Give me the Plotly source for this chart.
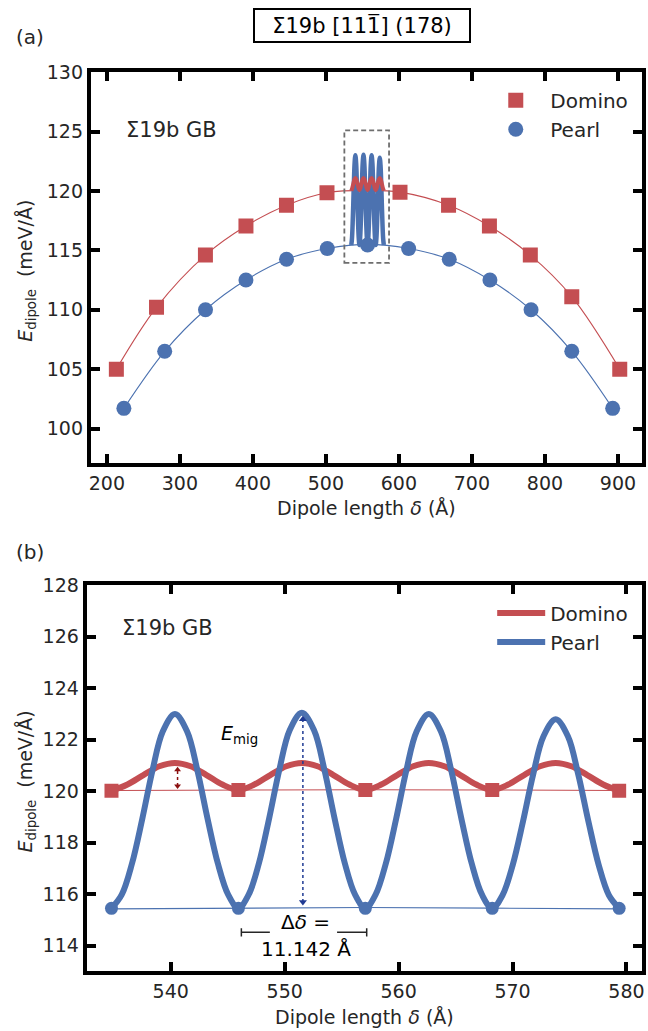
import plotly.graph_objects as go

# ---------------- panel (a) data ----------------
domino_x = [213, 268, 335, 390.5, 446, 501.5, 601.5, 668, 724, 780, 836.8, 902.5]
domino_y = [105.0, 110.2, 114.6, 117.05, 118.8, 119.85, 119.9, 118.8, 117.05, 114.6, 111.1, 105.0]
pearl_x = [223.3, 279.2, 335.1, 390.5, 446.1, 501.9, 557.1, 613.3, 669.0, 724.7, 781.0, 836.8, 892.8]
pearl_y = [101.7, 106.5, 110.0, 112.5, 114.25, 115.15, 115.45, 115.15, 114.25, 112.5, 110.0, 106.5, 101.7]

domino_fit_x = [213, 268, 335, 390.5, 446, 501.5, 557.5, 601.5, 668, 724, 780, 836.8, 902.5]
domino_fit_y = [105.0, 110.2, 114.6, 117.05, 118.8, 119.85, 120.05, 119.9, 118.8, 117.05, 114.6, 111.1, 105.0]
pearl_fit_x = [223.3, 279.2, 335.1, 390.5, 446.1, 501.9, 557.1, 613.3, 669.0, 724.7, 781.0, 836.8, 892.8]
pearl_fit_y = [101.7, 106.5, 110.0, 112.5, 114.25, 115.15, 115.5, 115.15, 114.25, 112.5, 110.0, 106.5, 101.7]

# ---------------- panel (b) data (migration profiles) ----------------
pearl_curve_x = [534.80, 535.70, 536.60, 537.50, 538.40, 539.30, 540.37, 541.44, 542.34, 543.24, 544.14, 545.04,
                 545.94, 546.84, 547.74, 548.64, 549.54, 550.44, 551.51, 552.58, 553.48, 554.38, 555.28, 556.18,
                 557.08, 557.98, 558.88, 559.78, 560.68, 561.58, 562.65, 563.72, 564.62, 565.52, 566.42, 567.32,
                 568.22, 569.12, 570.02, 570.92, 571.82, 572.72, 573.79, 574.86, 575.76, 576.66, 577.56, 578.46,
                 579.36]
pearl_curve_y = [115.45, 115.98, 117.19, 118.92, 120.81, 122.32, 123.00, 122.32, 120.81, 118.92, 117.19, 115.98,
                 115.45, 115.98, 117.20, 118.95, 120.85, 122.37, 123.05, 122.37, 120.85, 118.95, 117.20, 115.98,
                 115.45, 115.98, 117.19, 118.92, 120.81, 122.32, 123.00, 122.32, 120.81, 118.92, 117.19, 115.98,
                 115.45, 115.96, 117.14, 118.83, 120.67, 122.14, 122.80, 122.14, 120.67, 118.83, 117.14, 115.96,
                 115.45]
domino_curve_x = [534.80, 536.20, 537.60, 539.00, 540.37, 541.74, 543.14, 544.54,
                  545.94, 547.34, 548.74, 550.14, 551.51, 552.88, 554.28, 555.68,
                  557.08, 558.48, 559.88, 561.28, 562.65, 564.02, 565.42, 566.82,
                  568.22, 569.62, 571.02, 572.42, 573.79, 575.16, 576.56, 577.96, 579.36]
domino_curve_y = [120.02, 120.26, 120.63, 120.97, 121.10, 120.97, 120.63, 120.26,
                  120.05, 120.26, 120.63, 120.97, 121.10, 120.97, 120.63, 120.26,
                  120.05, 120.26, 120.63, 120.97, 121.10, 120.97, 120.63, 120.26,
                  120.05, 120.26, 120.63, 120.97, 121.10, 120.97, 120.63, 120.26, 120.02]
site_x = [534.80, 545.94, 557.08, 568.22, 579.36]
domino_site_y = [120.02, 120.05, 120.05, 120.05, 120.02]
pearl_site_y = [115.45, 115.45, 115.45, 115.45, 115.45]
domino_fitb_y = [120.03, 120.05, 120.06, 120.05, 120.03]
pearl_fitb_y = [115.43, 115.46, 115.48, 115.46, 115.43]

# double arrows (x, low end, high end) and the Δδ bracket
emig_domino_arrow = [540.6, 120.20, 120.84]
emig_pearl_arrow = [551.6, 115.70, 122.80]
delta_bracket_x = [546.2, 557.2]

xticks_a = [200, 300, 400, 500, 600, 700, 800, 900]
yticks_a = [100, 105, 110, 115, 120, 125, 130]
xticks_b = [540, 550, 560, 570, 580]
yticks_b = [114, 116, 118, 120, 122, 124, 126, 128]

RED = "#C44E52"
BLUE = "#4C72B0"
TXT = "#262626"
FONT = "DejaVu Sans"
W, H = 648, 1031

def px(xp):
    return xp / W

def py(yp):
    # vertical page position (px from top) -> paper fraction
    yc = (yp - 11.4) / 0.988
    return 1 - yc / H

fig = go.Figure()

# ---- panel (a) ----
fig.add_trace(go.Scatter(x=domino_fit_x, y=domino_fit_y, mode="lines", line=dict(color=RED, width=1.1, shape="spline"),
                         showlegend=False, xaxis="x", yaxis="y", hoverinfo="skip"))
fig.add_trace(go.Scatter(x=pearl_fit_x, y=pearl_fit_y, mode="lines", line=dict(color=BLUE, width=1.1, shape="spline"),
                         showlegend=False, xaxis="x", yaxis="y", hoverinfo="skip"))
fig.add_trace(go.Scatter(x=pearl_curve_x, y=pearl_curve_y, mode="lines", line=dict(color=BLUE, width=4.5, shape="spline"),
                         showlegend=False, xaxis="x", yaxis="y"))
fig.add_trace(go.Scatter(x=domino_curve_x, y=domino_curve_y, mode="lines", line=dict(color=RED, width=4, shape="spline"),
                         showlegend=False, xaxis="x", yaxis="y"))
fig.add_trace(go.Scatter(x=domino_x, y=domino_y, mode="markers", name="Domino",
                         marker=dict(symbol="square", size=15, color=RED, line=dict(width=0)),
                         xaxis="x", yaxis="y", legend="legend"))
fig.add_trace(go.Scatter(x=pearl_x, y=pearl_y, mode="markers", name="Pearl",
                         marker=dict(symbol="circle", size=15, color=BLUE, line=dict(width=0)),
                         xaxis="x", yaxis="y", legend="legend"))

# ---- panel (b) ----
fig.add_trace(go.Scatter(x=site_x, y=domino_fitb_y, mode="lines", line=dict(color=RED, width=1.1),
                         showlegend=False, xaxis="x2", yaxis="y2", hoverinfo="skip"))
fig.add_trace(go.Scatter(x=site_x, y=pearl_fitb_y, mode="lines", line=dict(color=BLUE, width=1.1),
                         showlegend=False, xaxis="x2", yaxis="y2", hoverinfo="skip"))
fig.add_trace(go.Scatter(x=domino_curve_x, y=domino_curve_y, mode="lines", name="Domino",
                         line=dict(color=RED, width=6, shape="spline"),
                         xaxis="x2", yaxis="y2", legend="legend2"))
fig.add_trace(go.Scatter(x=pearl_curve_x, y=pearl_curve_y, mode="lines", name="Pearl",
                         line=dict(color=BLUE, width=6, shape="spline"),
                         xaxis="x2", yaxis="y2", legend="legend2"))
fig.add_trace(go.Scatter(x=site_x, y=domino_site_y, mode="markers", showlegend=False,
                         marker=dict(symbol="square", size=14, color=RED, line=dict(width=0)),
                         xaxis="x2", yaxis="y2"))
fig.add_trace(go.Scatter(x=site_x, y=pearl_site_y, mode="markers", showlegend=False,
                         marker=dict(symbol="circle", size=13, color=BLUE, line=dict(width=0)),
                         xaxis="x2", yaxis="y2"))

# dotted double arrows
for arr, col, sz in [(emig_domino_arrow, "#8B1010", 6), (emig_pearl_arrow, "#1F3A93", 7)]:
    fig.add_trace(go.Scatter(x=[arr[0], arr[0]], y=[arr[1], arr[2]], mode="lines+markers", showlegend=False,
                             line=dict(color=col, width=1.5, dash="dot"),
                             marker=dict(symbol=["triangle-down", "triangle-up"], size=sz, color=col,
                                         line=dict(width=0)),
                             xaxis="x2", yaxis="y2", hoverinfo="skip"))

axis_common = dict(showline=True, linewidth=4, linecolor="black", mirror="ticks", ticks="inside",
                   ticklen=9, tickwidth=3.5, tickcolor="black", showgrid=False, zeroline=False,
                   tickfont=dict(family=FONT, size=19, color=TXT))

fig.update_layout(
    width=W, height=H, margin=dict(l=0, r=0, t=0, b=0),
    paper_bgcolor="white", plot_bgcolor="white",
    font=dict(family=FONT, color=TXT),
    xaxis=dict(domain=[px(89.5), px(644.7)], range=[178.0, 932.6], tickvals=xticks_a, anchor="y", **axis_common),
    yaxis=dict(domain=[py(463), py(72.5)], range=[97.08, 130], tickvals=yticks_a, anchor="x", **axis_common),
    xaxis2=dict(domain=[px(85.3), px(644.7)], range=[532.62, 581.34], tickvals=xticks_b, anchor="y2", **axis_common),
    yaxis2=dict(domain=[py(970.5), py(585)], range=[113, 128], tickvals=yticks_b, anchor="x2", **axis_common),
    legend=dict(x=px(483), y=py(81), xanchor="left", yanchor="top", bgcolor="rgba(0,0,0,0)",
                font=dict(family=FONT, size=20, color=TXT), itemwidth=59),
    legend2=dict(x=px(494), y=py(593), xanchor="left", yanchor="top", bgcolor="rgba(0,0,0,0)",
                 font=dict(family=FONT, size=20, color=TXT), itemwidth=48),
)

# dashed zoom box in panel (a)
fig.add_shape(type="rect", xref="x", yref="y", x0=525.3, x1=586.5, y0=113.95, y1=125.1,
              line=dict(color="#6e6e6e", width=1.8, dash="5px,3px"))

# Δδ bracket in panel (b)
bar_y = 114.52
cap = 0.16
for x0, x1 in [(delta_bracket_x[0], 548.7), (554.6, delta_bracket_x[1])]:
    fig.add_shape(type="line", xref="x2", yref="y2", x0=x0, x1=x1, y0=bar_y, y1=bar_y,
                  line=dict(color=TXT, width=1.5))
for xc in delta_bracket_x:
    fig.add_shape(type="line", xref="x2", yref="y2", x0=xc, x1=xc, y0=bar_y - cap, y1=bar_y + cap,
                  line=dict(color=TXT, width=1.5))

def txt(x, y, s, size, color=TXT, angle=0, **kw):
    fig.add_annotation(x=px(x), y=py(y), xref="paper", yref="paper", text=s, showarrow=False,
                       font=dict(family=FONT, size=size, color=color), textangle=angle,
                       xanchor="center", yanchor="middle", **kw)

txt(363, 25.5, "Σ19b [11" + "1\u0305" + "] (178)", 21, color="black",
    bordercolor="black", borderwidth=2, borderpad=4, bgcolor="white", width=206, height=23)
txt(28, 37, "(a)", 20)
txt(28, 552, "(b)", 20)
txt(171, 130, "Σ19b GB", 21)
txt(167, 628, "Σ19b GB", 21)
txt(367, 508, "Dipole length <i>δ</i> (Å)", 19)
txt(365, 1016, "Dipole length <i>δ</i> (Å)", 19)
txt(25, 271, "<i>E</i><sub>dipole</sub>  (meV/Å)", 19, angle=-90)
txt(25, 781, "<i>E</i><sub>dipole</sub>  (meV/Å)", 19, angle=-90)
txt(239, 734, "<i>E</i><sub>mig</sub>", 19, color="black")
txt(306, 921, "Δ<i>δ</i> =", 20, color="black")
txt(306, 948, "11.142 Å", 20, color="black")

post = ("var s=document.createElement('style');"
        "s.textContent='html,body{margin:0!important;padding:0!important;overflow:hidden;"
        "width:648px;height:1031px;}body>div{font-size:0;line-height:0;margin:0;padding:0;}';"
        "document.head.appendChild(s);"
        "var d=document.getElementById('{plot_id}');d.style.position='absolute';"
        "d.style.left='0px';d.style.top='0px';d.style.margin='0';")
fig.write_html("out.html", post_script=post, config={"displayModeBar": False})
